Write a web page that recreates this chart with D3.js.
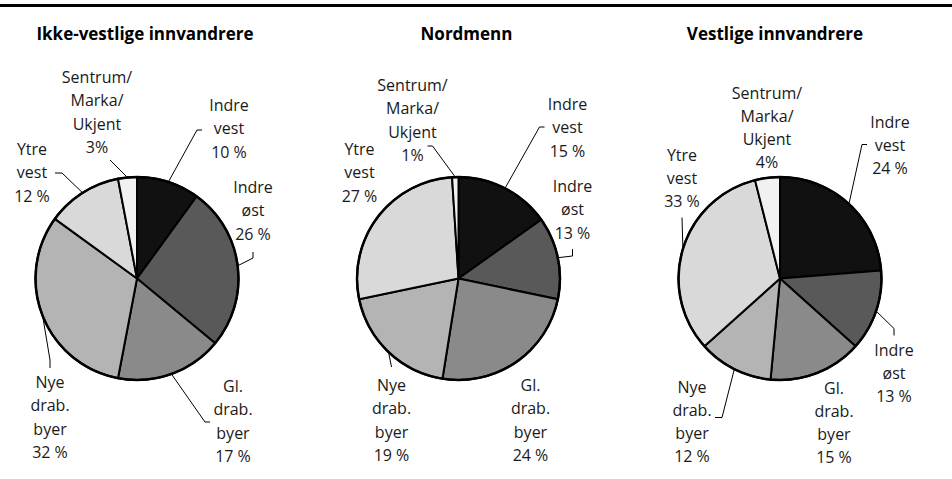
<!DOCTYPE html>
<html>
<head>
<meta charset="utf-8">
<script src="https://cdn.jsdelivr.net/npm/d3@7"></script>
<style>
  body { margin: 0; background: #fff; }
  svg { display: block; font-family: "Open Sans", "Noto Sans", sans-serif; }
  .title { font-size: 17px; font-weight: bold; fill: #000; }
  .lbl { font-size: 16px; fill: #1a1a1a; }
</style>
</head>
<body>
<svg width="952" height="479"></svg>
<script>
// data
let titles = ["Ikke-vestlige innvandrere", "Nordmenn", "Vestlige innvandrere"];
let categories = ["Indre vest", "Indre øst", "Gl. drab. byer", "Nye drab. byer", "Ytre vest", "Sentrum/Marka/Ukjent"];
let labelLines = [["Indre", "vest"], ["Indre", "øst"], ["Gl.", "drab.", "byer"], ["Nye", "drab.", "byer"], ["Ytre", "vest"], ["Sentrum/", "Marka/", "Ukjent"]];
let ikkeVestlige = [10, 26, 17, 32, 12, 3];
let nordmenn = [15, 13, 24, 19, 27, 1];
let vestlige = [24, 13, 15, 12, 33, 4];
let series = [ikkeVestlige, nordmenn, vestlige];

let fills = ["#111111", "#595959", "#8a8a8a", "#b4b4b4", "#d9d9d9", "#f1f1f1"];

// label placement, relative to each pie centre: [x, first baseline, leader elbow points]
let labelLayout = [
  [
    [92, -167.5, [[60, -148.5], [65, -148.5]]],
    [116, -85.5, [[116, -20.5], [116, -26.5]]],
    [96, 113.5, [[68, 143.5], [73, 143.5]]],
    [-87, 109.5, [[-87, 81.5], [-87, 89.5]]],
    [-105, -123.5, [[-75, -105.5], [-82, -105.5]]],
    [-40, -195.5, [[-27, -118.5]]]
  ],
  [
    [109, -168.5, [[81, -151.5], [86, -151.5]]],
    [114, -86.5, [[114, -22.5], [114, -29.5]]],
    [72, 112.5, null],
    [-67, 112.5, [[-67, 88.5]]],
    [-99, -123.5, null],
    [-46, -187.5, [[-26, -132.5], [-31, -132.5]]]
  ],
  [
    [110, -151, [[82, -134], [87, -134]]],
    [114, 77, [[114, 50], [114, 57]]],
    [54, 115, null],
    [-88, 114, [[-58, 139], [-65, 139]]],
    [-98, -118, [[-98, -61]]],
    [-13, -180, null]
  ]
];
let titleOffset = [8, 8, -5];

let width = 952, height = 479;
let radius = 101.5;
let lineHeight = 23.3;

let svg = d3.select("svg");

// top rule
svg.append("line")
  .attr("x1", 0).attr("x2", width)
  .attr("y1", 5.5).attr("y2", 5.5)
  .attr("stroke", "#000")
  .attr("stroke-width", 3);

let xScale = d3.scalePoint()
  .domain(titles)
  .range([137, 780]);

let pie = d3.pie().sort(null).value(d => d);
let arc = d3.arc().innerRadius(0).outerRadius(radius);

function pctText(i, v){
  return i == 5 ? v + "%" : v + " %";
}

titles.forEach((t, k) => {
  let cx = xScale(t), cy = 278.5;
  let g = svg.append("g").attr("transform", `translate(${cx}, ${cy})`);

  svg.append("text")
    .attr("class", "title")
    .attr("x", cx + titleOffset[k])
    .attr("y", 40)
    .attr("text-anchor", "middle")
    .text(t);

  let arcs = pie(series[k]);

  g.selectAll(".slice")
    .data(arcs)
    .enter()
    .append("path")
    .attr("class", "slice")
    .attr("d", arc)
    .attr("fill", (d, i) => fills[i])
    .attr("stroke", "#000")
    .attr("stroke-width", 2)
    .attr("stroke-linejoin", "round");

  g.append("circle")
    .attr("r", radius)
    .attr("fill", "none")
    .attr("stroke", "#000")
    .attr("stroke-width", 2.5);

  // leader lines
  arcs.forEach((d, i) => {
    let lay = labelLayout[k][i];
    if(!lay[2]) return;
    let mid = (d.startAngle + d.endAngle) / 2;
    let pts = [[Math.sin(mid) * radius, -Math.cos(mid) * radius]].concat(lay[2]);
    g.append("path")
      .attr("d", d3.line()(pts))
      .attr("fill", "none")
      .attr("stroke", "#000")
      .attr("stroke-width", 1);
  });

  // labels
  arcs.forEach((d, i) => {
    let lay = labelLayout[k][i];
    let lines = labelLines[i].concat([pctText(i, d.data)]);
    let txt = g.append("text")
      .attr("class", "lbl")
      .attr("text-anchor", "middle")
      .attr("x", lay[0])
      .attr("y", lay[1]);
    lines.forEach((l, j) => {
      txt.append("tspan")
        .attr("x", lay[0])
        .attr("y", lay[1] + j * lineHeight)
        .text(l);
    });
  });
});
</script>
</body>
</html>
